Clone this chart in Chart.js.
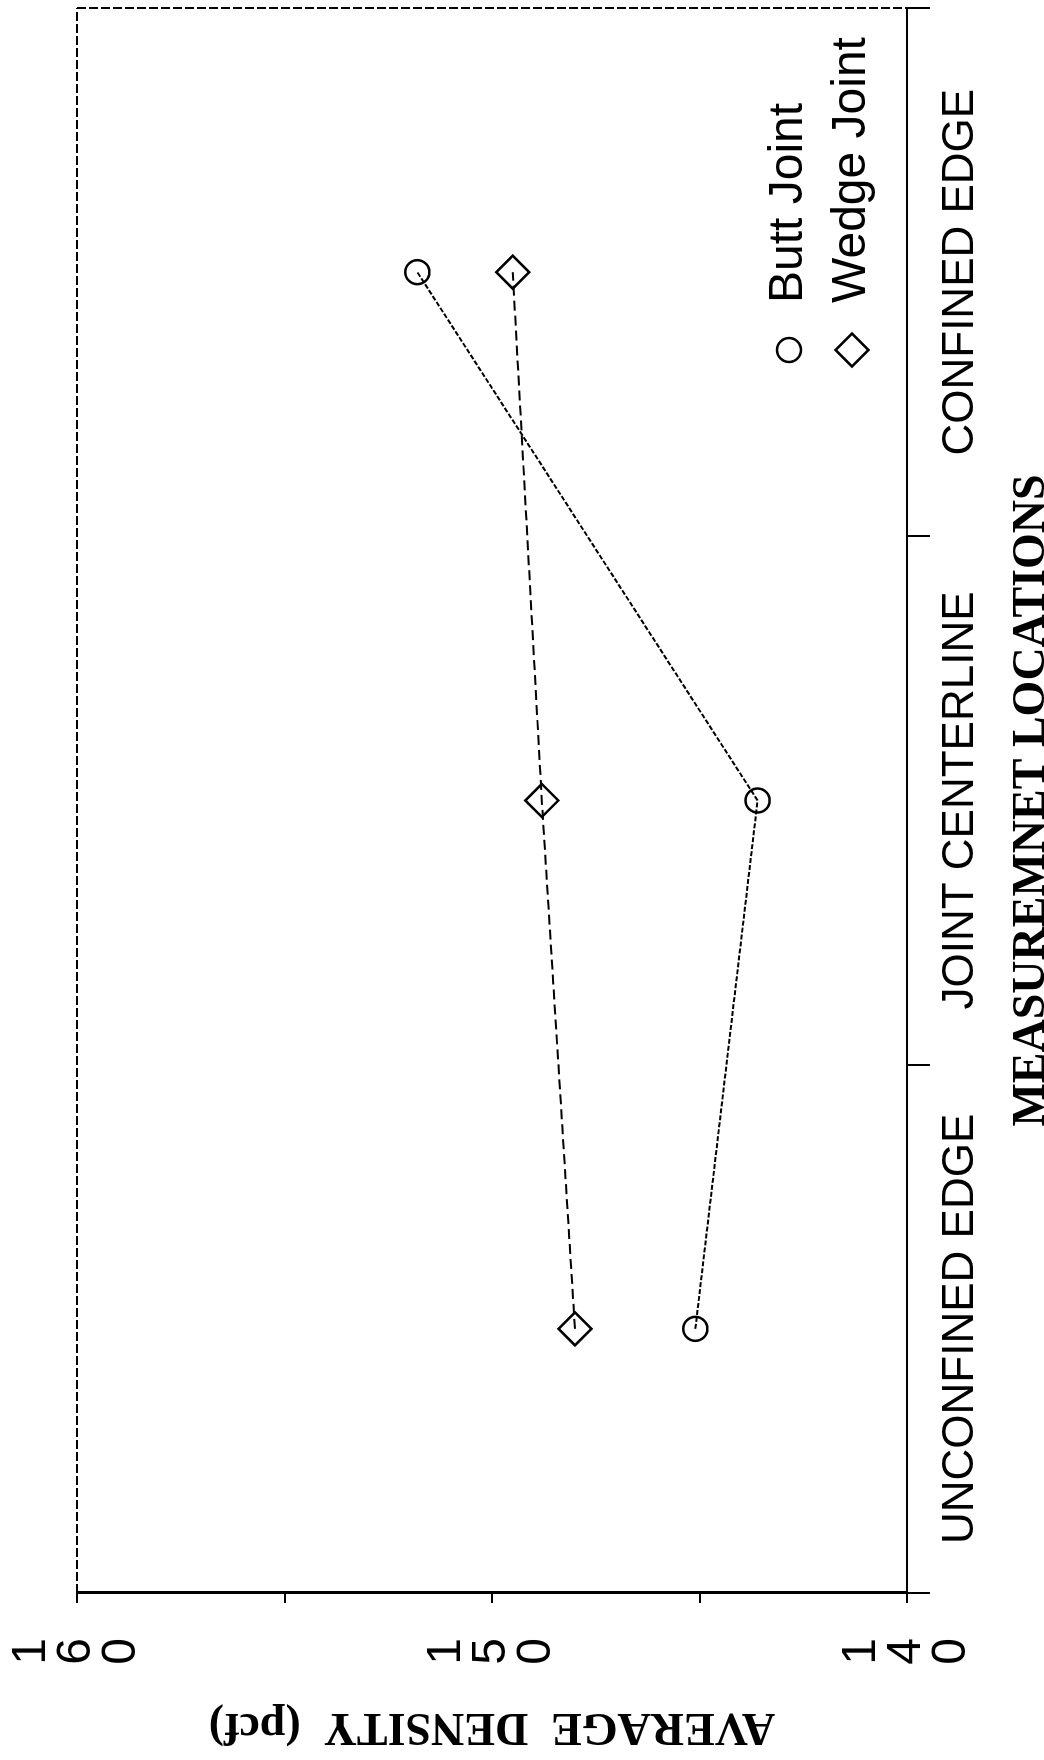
<!DOCTYPE html>
<html>
<head>
<meta charset="utf-8">
<script src="https://cdn.jsdelivr.net/npm/chart.js@4.4.1/dist/chart.umd.min.js"></script>
<style>
  html, body { margin: 0; padding: 0; background: #fff; overflow: hidden; }
  #page { position: relative; width: 1044px; height: 1760px; background: #fff; }
  #rot {
    position: absolute; left: 0; top: 0;
    width: 1760px; height: 1044px;
    transform-origin: 0 0;
    transform: translate(0px, 1760px) rotate(-90deg);
  }
</style>
</head>
<body>
<div id="page">
  <div id="rot"><canvas id="c" width="1760" height="1044"></canvas></div>
</div>
<script>
// ---- data ----
const categories = ['UNCONFINED EDGE', 'JOINT CENTERLINE', 'CONFINED EDGE'];
const buttJoint  = [145.1, 143.6, 151.8];
const wedgeJoint = [148.0, 148.8, 149.5];
const seriesNames = ['Butt Joint', 'Wedge Joint'];
const densityLabels = [140, 150, 160];
const densityMin = 140;
const densityMax = 160;
const densityStep = 5;
const xTitle = 'MEASUREMNET LOCATIONS';
const yTitle = 'AVERAGE  DENSITY  (pcf)';

const SANS = "'Liberation Sans', Arial, sans-serif";
const SERIF = "'Liberation Serif', 'Times New Roman', serif";

const framePlugin = {
  id: 'frame',
  afterDraw(chart) {
    const {ctx, chartArea: a} = chart;
    ctx.save();
    ctx.strokeStyle = '#000';
    ctx.lineWidth = 2;
    ctx.setLineDash([9, 3]);
    ctx.beginPath();
    ctx.moveTo(a.left, a.top); ctx.lineTo(a.right, a.top);
    ctx.moveTo(a.right, a.top); ctx.lineTo(a.right, a.bottom);
    ctx.stroke();
    ctx.restore();
  }
};

const legendPlugin = {
  id: 'insideLegend',
  afterDraw(chart) {
    const {ctx, chartArea: a} = chart;
    const rows = [a.bottom - 118, a.bottom - 55];
    chart.data.datasets.forEach((ds, i) => {
      const y = rows[i];
      const mx = a.right - 342;
      ctx.save();
      ctx.strokeStyle = '#000';
      ctx.fillStyle = 'rgba(0,0,0,0)';
      ctx.lineWidth = ds.pointBorderWidth;
      ctx.setLineDash([]);
      Chart.helpers.drawPoint(ctx, {pointStyle: ds.pointStyle, rotation: 0, radius: ds.pointRadius, borderWidth: ds.pointBorderWidth}, mx, y);
      ctx.restore();
      ctx.save();
      ctx.fillStyle = '#000';
      ctx.font = '48px ' + SANS;
      ctx.textAlign = 'left';
      ctx.textBaseline = 'middle';
      ctx.fillText(ds.label, a.right - 295, y);
      ctx.restore();
    });
  }
};

function noPad(s) { s.paddingTop = 0; s.paddingBottom = 0; s.paddingLeft = 0; s.paddingRight = 0; }

new Chart(document.getElementById('c'), {
  type: 'line',
  data: {
    labels: categories,
    datasets: [
      {
        label: seriesNames[0],
        data: buttJoint,
        borderColor: '#000',
        borderWidth: 2,
        borderDash: [5, 2],
        pointStyle: 'circle',
        pointRadius: 12,
        pointBorderWidth: 2.5,
        pointBorderColor: '#000',
        pointBackgroundColor: 'rgba(0,0,0,0)',
        fill: false,
        tension: 0
      },
      {
        label: seriesNames[1],
        data: wedgeJoint,
        borderColor: '#000',
        borderWidth: 2,
        borderDash: [10, 5],
        pointStyle: 'rectRot',
        pointRadius: 16.5,
        pointBorderWidth: 2.5,
        pointBorderColor: '#000',
        pointBackgroundColor: 'rgba(0,0,0,0)',
        fill: false,
        tension: 0
      }
    ]
  },
  options: {
    responsive: false,
    animation: false,
    devicePixelRatio: 1,
    layout: { autoPadding: false, padding: { top: 77, right: 8, left: 0, bottom: 0 } },
    plugins: {
      legend: { display: false },
      tooltip: { enabled: false },
      title: { display: false }
    },
    scales: {
      x: {
        type: 'category',
        position: 'bottom',
        offset: true,
        afterFit(s) { s.height = 137; noPad(s); },
        grid: { drawOnChartArea: false, drawTicks: true, tickLength: 23, color: '#000', lineWidth: 2, offset: true },
        border: { display: true, color: '#000', width: 2, dash: [8, 3] },
        ticks: { color: '#000', font: { family: SANS, size: 44 }, padding: 4, maxRotation: 0, autoSkip: false },
        title: { display: true, text: xTitle, color: '#000', font: { family: SERIF, size: 46, weight: 'bold', lineHeight: 0.5 }, padding: { top: 0, bottom: 0 } }
      },
      y: {
        min: densityMin,
        max: densityMax,
        afterFit(s) { s.width = 167; noPad(s); },
        grid: { drawOnChartArea: false, drawTicks: true, tickLength: 10, color: '#000', lineWidth: 2 },
        border: { display: true, color: '#000', width: 3 },
        ticks: {
          stepSize: densityStep,
          color: '#000',
          padding: 35,
          font: { family: SANS, size: 48, lineHeight: 0.94 },
          callback: (v) => densityLabels.includes(v) ? String(v).split('') : ''
        },
        title: { display: true, text: yTitle, color: '#000', font: { family: SERIF, size: 46, weight: 'bold', lineHeight: 1.5 }, padding: 0 }
      }
    }
  },
  plugins: [framePlugin, legendPlugin]
});
</script>
</body>
</html>
